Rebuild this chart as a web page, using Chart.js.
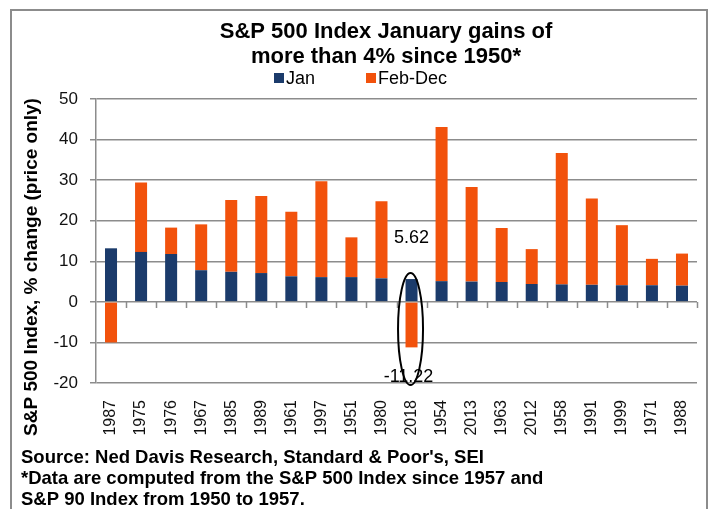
<!DOCTYPE html>
<html>
<head>
<meta charset="utf-8">
<script src="https://cdn.jsdelivr.net/npm/chart.js@4.4.1/dist/chart.umd.min.js"></script>
<style>
  body { margin: 0; background: #fff; }
  #wrap { width: 711px; height: 509px; }
</style>
</head>
<body>
<div id="wrap"><canvas id="gainsChart" width="711" height="509"></canvas></div>
<script>
// chart data
const years = ['1987', '1975', '1976', '1967', '1985', '1989', '1961', '1997', '1951', '1980',
               '2018', '1954', '2013', '1963', '2012', '1958', '1991', '1999', '1971', '1988'];
const janGains = [13.2, 12.3, 11.8, 7.8, 7.4, 7.1, 6.3, 6.1, 6.1, 5.8,
                  5.62, 5.1, 5.0, 4.9, 4.4, 4.3, 4.2, 4.1, 4.1, 4.0];
const febDecGains = [-10.0, 17.1, 6.5, 11.3, 17.7, 19.0, 15.9, 23.6, 9.8, 19.0,
                     -11.22, 38.0, 23.3, 13.3, 8.6, 32.4, 21.3, 14.8, 6.5, 7.9];
const yMin = -20, yMax = 50, yStep = 10;

const titleLines = ['S&P 500 Index January gains of', 'more than 4% since 1950*'];
const yTitle = 'S&P 500 Index, % change (price only)';
const footerLines = [
    "Source: Ned Davis Research, Standard & Poor's, SEI",
    '*Data are computed from the S&P 500 Index since 1957 and',
    'S&P 90 Index from 1950 to 1957.'
];
const highlightYear = '2018';

const NAVY = '#1b3b6b';
const ORANGE = '#f2520c';
const GRID = '#8c8c8c';
const FONT = "'Liberation Sans', Arial, sans-serif";

Chart.defaults.font.family = FONT;
Chart.defaults.color = '#111';

// frame, title, legend, axis title and footer
const decorations = {
    id: 'decorations',
    beforeDraw(chart) {
        const ctx = chart.ctx;
        ctx.save();
        ctx.fillStyle = '#fff';
        ctx.fillRect(0, 0, chart.width, chart.height);
        ctx.strokeStyle = GRID;
        ctx.lineWidth = 2;
        ctx.strokeRect(11, 10, 696, 520);
        ctx.restore();
    },
    afterDraw(chart) {
        const ctx = chart.ctx;
        ctx.save();
        ctx.fillStyle = '#000';
        ctx.textBaseline = 'middle';

        ctx.textAlign = 'center';
        ctx.font = 'bold 22px ' + FONT;
        ctx.fillText(titleLines[0], 386, 32);
        ctx.fillText(titleLines[1], 386, 57);

        // legend
        ctx.font = '18px ' + FONT;
        ctx.textAlign = 'left';
        ctx.fillStyle = NAVY;
        ctx.fillRect(274, 73, 10, 10);
        ctx.fillStyle = '#000';
        ctx.fillText('Jan', 286, 79);
        ctx.fillStyle = ORANGE;
        ctx.fillRect(366, 73, 10, 10);
        ctx.fillStyle = '#000';
        ctx.fillText('Feb-Dec', 378, 79);

        // y axis title
        ctx.save();
        ctx.translate(32, 267);
        ctx.rotate(-Math.PI / 2);
        ctx.textAlign = 'center';
        ctx.font = 'bold 19px ' + FONT;
        ctx.fillText(yTitle, 0, 0);
        ctx.restore();

        // footer
        ctx.textAlign = 'left';
        ctx.font = 'bold 18.5px ' + FONT;
        footerLines.forEach((line, i) => ctx.fillText(line, 21, 458 + i * 21));
        ctx.restore();
    },
    afterDatasetsDraw(chart) {
        const ctx = chart.ctx;
        const x = chart.scales.x;
        const y = chart.scales.y;
        const zero = Math.round(y.getPixelForValue(0));
        const step = x.width / years.length;

        // category tick marks hanging from the zero line
        ctx.save();
        ctx.strokeStyle = GRID;
        ctx.lineWidth = 1.5;
        ctx.beginPath();
        for (let i = 1; i <= years.length; i++) {
            const tx = Math.round(x.left + i * step) + 0.5;
            ctx.moveTo(tx, zero);
            ctx.lineTo(tx, zero + 6);
        }
        ctx.stroke();
        ctx.restore();

        const idx = years.indexOf(highlightYear);
        const cx = x.getPixelForValue(idx);
        const top = y.getPixelForValue(janGains[idx] + 1.5);
        const bottom = y.getPixelForValue(yMin - 0.5);
        ctx.save();
        ctx.strokeStyle = '#000';
        ctx.lineWidth = 2;
        ctx.beginPath();
        ctx.ellipse(cx - 1, (top + bottom) / 2, 12.5, (bottom - top) / 2, 0, 0, Math.PI * 2);
        ctx.stroke();
        ctx.fillStyle = '#000';
        ctx.font = '18px ' + FONT;
        ctx.textAlign = 'center';
        ctx.textBaseline = 'middle';
        ctx.fillText(janGains[idx].toFixed(2), cx, y.getPixelForValue(janGains[idx] + 10));
        ctx.fillText(febDecGains[idx].toFixed(2), cx - 3, y.getPixelForValue(febDecGains[idx] - 7.3));
        ctx.restore();
    }
};

new Chart(document.getElementById('gainsChart'), {
    type: 'bar',
    data: {
        labels: years,
        datasets: [
            { label: 'Jan', data: janGains, backgroundColor: NAVY, stack: 's' },
            { label: 'Feb-Dec', data: febDecGains, backgroundColor: ORANGE, stack: 's' }
        ]
    },
    options: {
        responsive: false,
        animation: false,
        devicePixelRatio: 1,
        categoryPercentage: 1,
        barPercentage: 0.4,
        layout: { padding: { top: 99, left: 36, right: 14, bottom: 61 } },
        plugins: {
            legend: { display: false },
            title: { display: false },
            tooltip: { enabled: false }
        },
        scales: {
            x: {
                stacked: true,
                grid: { display: false },
                border: { display: false },
                ticks: { minRotation: 90, maxRotation: 90, padding: 9, color: '#111', font: { size: 16 } },
                afterFit(scale) { scale.height = 65; }
            },
            y: {
                stacked: true,
                min: yMin,
                max: yMax,
                ticks: { stepSize: yStep, padding: 12, color: '#111', font: { size: 17 } },
                grid: { color: GRID, lineWidth: 1.5, tickLength: 6 },
                border: { color: GRID, width: 1.5 },
                afterFit(scale) { scale.width = 60; }
            }
        }
    },
    plugins: [decorations]
});
</script>
</body>
</html>
